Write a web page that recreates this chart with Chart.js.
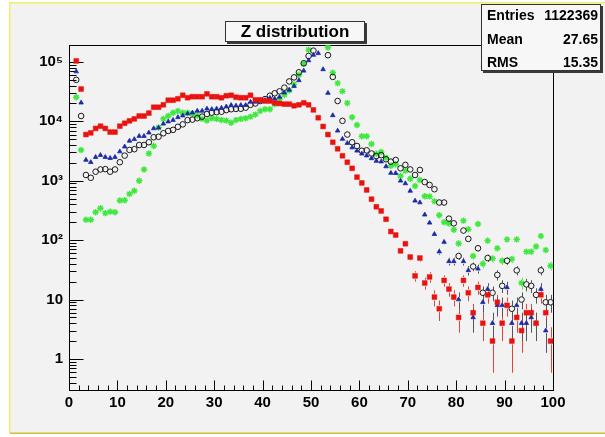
<!DOCTYPE html>
<html><head><meta charset="utf-8">
<script src="https://cdn.jsdelivr.net/npm/chart.js@4.4.0/dist/chart.umd.min.js"></script>
<style>html,body{margin:0;padding:0;background:#fff;overflow:hidden}canvas{display:block}</style>
</head><body>
<canvas id="c" width="605" height="437"></canvas>
<script>
// ---- data ----
const binLow = 0, binWidth = 1, nBins = 100;
const binCenters = Array.from({length: nBins}, (_, i) => binLow + (i + 0.5) * binWidth);

const redValues = [null,104000,35000,6000,6400,7600,8300,7600,6600,6600,
  8300,9300,10200,11000,12300,12300,13800,17300,17300,19000,
  22700,22700,24000,27500,25000,26000,26000,26000,29000,26000,
  26000,25000,27000,27500,25500,25000,25000,27500,23000,23000,
  22000,22000,20500,20000,19500,19500,18300,19000,20500,19000,
  15600,11500,8200,6000,4450,3450,2630,2050,1620,1150,
  920,700,490,365,310,225,140,122,66,87,
  52,25,50,19,24,11,7,21,15,11,
  5,21,13,6,16,4,12,2,9,4,
  8,2,5,3,6,6,4,12,6,2];

const blueValues = [null,69000,20600,2240,2050,2500,2700,2500,2400,2500,
  3100,3750,4700,5000,5650,5650,6450,7600,7800,9100,
  9900,10500,11700,12500,13500,14000,15000,15000,16300,16000,
  16300,16800,17700,18700,18300,18700,18700,21300,21300,22000,
  22700,24700,24000,25700,30500,33800,39000,49000,71000,106000,
  131000,140000,75000,30000,12600,6950,5050,4300,3620,3200,
  2850,2650,2380,2150,2100,1740,1350,1340,1000,900,
  675,460,430,268,196,126,64,93,44,44,
  10,44,31,5,33,9,15,4,8,8,
  16,4,8,4,4,5,4,15,3,null];

const blackValues = [null,50000,12300,1250,1120,1420,1550,1570,1420,1550,
  2050,2650,3300,3400,4000,4000,4450,5400,5500,6300,
  6900,7200,8100,8900,10500,10700,11300,12000,13300,14000,
  14300,14500,15500,16000,16200,16300,17000,19000,20000,22000,
  23700,27000,29700,32000,37000,47000,55000,67000,95000,126000,
  155000,260000,230000,130000,56000,22000,10200,6000,4450,3850,
  3200,3250,2880,2600,2700,2300,2100,2240,1620,1850,
  1550,1250,1520,950,850,720,430,430,230,192,
  54,145,105,36,73,13,50,13,26,17,
  45,7,31,10,18,17,12,31,9,9];

const greenValues = [null,25500,3300,220,220,295,345,285,300,295,
  465,470,600,680,1000,1550,2880,3850,7900,11000,
  12300,14000,15000,14000,14000,13300,12500,11000,10300,11300,
  11000,10500,10300,9500,10500,11000,11300,12000,13000,15000,
  16000,16000,19500,23500,28000,33000,42000,61000,93000,160000,
  230000,280000,250000,175000,66000,44000,32000,20300,11700,8700,
  5600,5600,4150,2850,3050,2450,1790,1900,1200,1480,
  1080,815,1030,550,545,450,262,200,190,150,
  88,213,152,54,187,40,98,49,73,45,
  103,48,103,19,64,64,78,117,68,37];

const xTickValues = [0,10,20,30,40,50,60,70,80,90,100];
const xTickLabels = ['0','10','20','30','40','50','60','70','80','90','100'];
const yTickValues = [1,10,100,1000,10000,100000];
const yTickLabels = ['1','10','10\u00B2','10\u00B3','10\u2074','10\u2075'];

const titleText = 'Z distribution';
const statsLabels = ['Entries','Mean','RMS'];
const statsValues = ['1122369','27.65','15.35'];

// ---- helpers ----
const toPts = vals => binCenters.map((x, i) => ({x: x, y: vals[i]})).filter(p => p.y != null && p.y > 0);
const FONT = '"Liberation Sans", Arial, Helvetica, sans-serif';

const bgPlugin = {
  id: 'rootbg',
  beforeDraw(chart) {
    const ctx = chart.ctx, W = chart.width, H = chart.height;
    ctx.save();
    ctx.fillStyle = '#ffffff';
    ctx.fillRect(0, 0, W, H);
    ctx.fillStyle = '#f2f2f2';
    ctx.fillRect(10, 3, W - 10, 430);
    ctx.lineWidth = 1.5;
    ctx.strokeStyle = '#f3ee6a';
    ctx.beginPath();
    ctx.moveTo(9.75, 433); ctx.lineTo(9.75, 2.75); ctx.lineTo(W, 2.75);
    ctx.stroke();
    ctx.strokeStyle = '#c9c13a';
    ctx.beginPath();
    ctx.moveTo(9.75, 433.25); ctx.lineTo(W, 433.25);
    ctx.stroke();
    ctx.restore();
  }
};

const axesPlugin = {
  id: 'rootaxes',
  beforeDatasetsDraw(chart) {
    const ctx = chart.ctx, a = chart.chartArea;
    const xs = chart.scales.x, ys = chart.scales.y;
    ctx.save();
    ctx.strokeStyle = '#000';
    ctx.lineWidth = 1;
    const L = Math.round(a.left) + 0.5, R = Math.round(a.right) + 0.5;
    const T = Math.round(a.top) + 0.5, B = Math.round(a.bottom) + 0.5;
    ctx.strokeRect(L, T, R - L, B - T);
    ctx.beginPath();
    for (let v = xs.min; v <= xs.max + 1e-9; v += 2) {
      const px = Math.round(xs.getPixelForValue(v)) + 0.5;
      const len = (Math.abs(v % 10) < 1e-9) ? 10 : 5;
      ctx.moveTo(px, B); ctx.lineTo(px, B - len);
    }
    for (let d = -1; d <= 6; d++) {
      for (let m = 1; m <= 9; m++) {
        const v = m * Math.pow(10, d);
        if (v < ys.min || v > ys.max) continue;
        const py = Math.round(ys.getPixelForValue(v)) + 0.5;
        const len = m === 1 ? 14 : 7;
        ctx.moveTo(L, py); ctx.lineTo(L + len, py);
      }
    }
    ctx.stroke();

    // vertical error bars (sqrt N), with a gap around the marker
    ctx.beginPath();
    ctx.rect(a.left, a.top, a.right - a.left, a.bottom - a.top);
    ctx.clip();
    chart.data.datasets.forEach(ds => {
      ctx.strokeStyle = ds.errColor;
      ctx.lineWidth = 1;
      ctx.beginPath();
      const gap = ds.pointRadius;
      ds.data.forEach(p => {
        const px = Math.round(xs.getPixelForValue(p.x)) + 0.5;
        const py = ys.getPixelForValue(p.y);
        const e = Math.sqrt(p.y);
        const hi = ys.getPixelForValue(p.y + e);
        const lo = (p.y - e) > 0 ? ys.getPixelForValue(p.y - e) : a.bottom + 5;
        if (py - hi > gap) { ctx.moveTo(px, hi); ctx.lineTo(px, py - gap); }
        if (lo - py > gap) { ctx.moveTo(px, py + gap); ctx.lineTo(px, lo); }
      });
      ctx.stroke();
    });
    ctx.restore();
  }
};

function shadowBox(ctx, x, y, w, h) {
  ctx.fillStyle = '#3a3a3a';
  ctx.fillRect(x + 2, y + 2, w, h);
  ctx.fillStyle = '#f7f7f7';
  ctx.fillRect(x, y, w, h);
  ctx.strokeStyle = '#333';
  ctx.lineWidth = 1;
  ctx.strokeRect(x + 0.5, y + 0.5, w - 1, h - 1);
}

const textPlugin = {
  id: 'roottext',
  afterDraw(chart) {
    const ctx = chart.ctx;
    ctx.save();
    // title box
    shadowBox(ctx, 225, 21, 140, 21);
    ctx.fillStyle = '#000';
    ctx.font = 'bold 17px ' + FONT;
    ctx.textAlign = 'center';
    ctx.textBaseline = 'middle';
    ctx.fillText(titleText, 295, 32);
    // stats box
    shadowBox(ctx, 481, 4, 120, 67);
    ctx.fillStyle = '#000';
    ctx.font = 'bold 14px ' + FONT;
    const rows = [16, 40, 63];
    statsLabels.forEach((l, i) => {
      ctx.textAlign = 'left';
      ctx.fillText(l, 487, rows[i]);
      ctx.textAlign = 'right';
      ctx.fillText(statsValues[i], 598, rows[i]);
    });
    ctx.restore();
  }
};

const mk = (label, vals, style, radius, fill, border, bw, err) => ({
  label: label, data: toPts(vals), showLine: false, pointStyle: style,
  pointRadius: radius, pointHoverRadius: radius, pointBackgroundColor: fill,
  pointBorderColor: border, pointBorderWidth: bw, errColor: err, clip: 0
});

new Chart(document.getElementById('c'), {
  type: 'scatter',
  data: {
    datasets: [
      mk('red', redValues, 'rect', 3.4, '#e8120f', '#e8120f', 0.5, '#e8413a'),
      mk('blue', blueValues, 'triangle', 2.6, '#1c2aa6', '#1c2aa6', 0.8, '#555560'),
      mk('black', blackValues, 'circle', 2.8, 'rgba(0,0,0,0)', '#1a1a1a', 1, '#555555'),
      mk('green', greenValues, 'star', 3.2, '#3ee83e', '#3ee83e', 1.4, '#4ce84c')
    ]
  },
  options: {
    responsive: false,
    animation: false,
    devicePixelRatio: 1,
    layout: {padding: {left: 10, right: 52, top: 45, bottom: 0}},
    plugins: {legend: {display: false}, tooltip: {enabled: false}, title: {display: false}},
    scales: {
      x: {
        type: 'linear', min: 0, max: 100,
        afterBuildTicks: s => { s.ticks = xTickValues.map(v => ({value: v})); },
        afterFit: s => { s.height = 47; },
        grid: {display: false, drawTicks: false},
        border: {display: false},
        ticks: {
          autoSkip: false, maxRotation: 0, padding: 4, color: '#000',
          font: {family: FONT, size: 15, weight: 'bold'},
          callback: (v) => { const i = xTickValues.indexOf(v); return i >= 0 ? xTickLabels[i] : ''; }
        }
      },
      y: {
        type: 'logarithmic', min: 0.3, max: 193000,
        afterBuildTicks: s => { s.ticks = yTickValues.map(v => ({value: v})); },
        afterFit: s => { s.width = 59; },
        grid: {display: false, drawTicks: false},
        border: {display: false},
        ticks: {
          autoSkip: false, padding: 6, color: '#000',
          font: {family: FONT, size: 15, weight: 'bold'},
          callback: (v) => { const i = yTickValues.indexOf(v); return i >= 0 ? yTickLabels[i] : ''; }
        }
      }
    }
  },
  plugins: [bgPlugin, axesPlugin, textPlugin]
});
</script>
</body></html>
